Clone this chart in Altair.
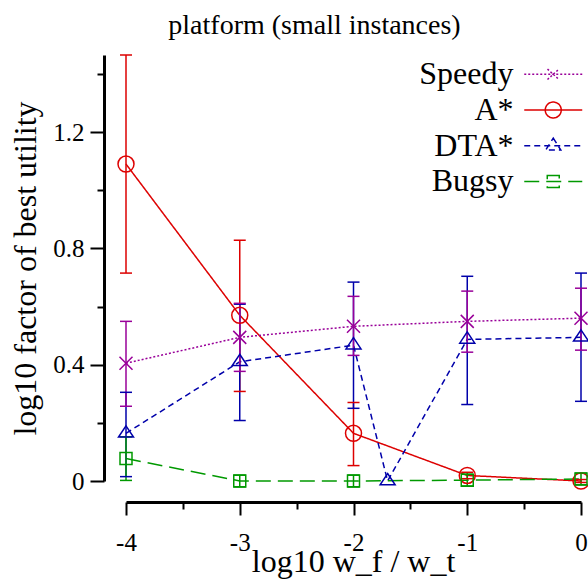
import altair as alt
import pandas as pd

FONT = "Liberation Serif"

series_names = ["Speedy", "A*", "DTA*", "Bugsy"]
series_colors = ["#990099", "#dd0000", "#0000aa", "#009900"]
series_dashes = [[2, 2], [1, 0], [6, 4], [15, 7]]

# log10 w_f / w_t, mean log10 factor of best utility, and error-bar extents
speedy_x = [-4, -3, -2, -1, 0]
speedy_y = [0.405, 0.494, 0.532, 0.549, 0.560]
speedy_lo = [0.257, 0.377, 0.432, 0.443, 0.450]
speedy_hi = [0.549, 0.611, 0.635, 0.653, 0.663]

astar_x = [-4, -3, -2, -1, 0]
astar_y = [1.090, 0.570, 0.164, 0.019, 0.000]
astar_lo = [0.715, 0.308, 0.053, 0.008, -0.005]
astar_hi = [1.465, 0.828, 0.270, 0.030, 0.005]

dta_x = [-4, -3, -2, -1.7, -1, 0]
dta_y = [0.164, 0.410, 0.467, 0.000, 0.487, 0.494]
dta_lo = [0.015, 0.208, 0.250, None, 0.263, 0.274]
dta_hi = [0.305, 0.608, 0.684, None, 0.704, 0.715]

bugsy_x = [-4, -3, -2, -1, 0]
bugsy_y = [0.077, 0.000, 0.000, 0.003, 0.007]
bugsy_lo = [0.002, -0.020, -0.020, -0.017, -0.013]
bugsy_hi = [0.152, 0.020, 0.020, 0.023, 0.027]

x_ticks = [-4, -3.5, -3, -2.5, -2, -1.5, -1, -0.5, 0]
y_ticks = [0, 0.2, 0.4, 0.6, 0.8, 1.0, 1.2, 1.4]

rows = []
for name, xs, ys, los, his in [
    ("A*", astar_x, astar_y, astar_lo, astar_hi),
    ("DTA*", dta_x, dta_y, dta_lo, dta_hi),
    ("Speedy", speedy_x, speedy_y, speedy_lo, speedy_hi),
    ("Bugsy", bugsy_x, bugsy_y, bugsy_lo, bugsy_hi),
]:
    for x, y, lo, hi in zip(xs, ys, los, his):
        rows.append({"series": name, "x": x, "y": y, "lo": lo, "hi": hi})
df = pd.DataFrame(rows)
err_df = df.dropna(subset=["lo", "hi"])

# marker outlines used in the plot (custom paths live in the [-1, 1] unit square)
marker_shapes = {
    "Speedy": ("M-1,-1L1,1M-1,1L1,-1", 169),
    "A*": ("circle", 256),
    "DTA*": ("M0,-1L1,0.5L-1,0.5Z", 225),
    "Bugsy": ("square", 144),
}

# legend samples: one unit = 18 px (symbol size 36 x 36), the sample line is 58 px long
KEY_UNIT = 18
KEY_HALF = 29 / KEY_UNIT


def key_sample(dash, marker):
    """Legend sample: broken horizontal line plus a small marker."""
    u = 1 / KEY_UNIT
    on, off = dash
    parts = []
    if off == 0:
        parts.append(f"M{-KEY_HALF:.3f},0H{KEY_HALF:.3f}")
    else:
        pos = -KEY_HALF
        while pos < KEY_HALF:
            end = min(pos + on * u, KEY_HALF)
            parts.append(f"M{pos:.3f},0H{end:.3f}")
            pos = end + off * u
    return "".join(parts) + marker


key_markers = [
    "M-0.32,-0.29L0.32,0.29M-0.32,0.29L0.32,-0.29",
    "M0.444,0A0.444,0.444,0,1,1,-0.444,0A0.444,0.444,0,1,1,0.444,0",
    "M0,-0.42L0.42,0.24L-0.42,0.24Z",
    "M-0.333,-0.333H0.333V0.333H-0.333Z",
]
key_paths = [key_sample(d, m) for d, m in zip(series_dashes, key_markers)]

x_scale = alt.Scale(domain=[-4, 0], nice=False, zero=False)
y_scale = alt.Scale(domain=[0, 1.465], nice=False, zero=False)
color_scale = alt.Scale(domain=series_names, range=series_colors)
dash_scale = alt.Scale(domain=series_names, range=series_dashes)

x_axis = alt.Axis(
    title="log10 w_f / w_t",
    values=x_ticks,
    labelExpr="datum.value % 1 === 0 ? '' + datum.value : ''",
    tickSize={"condition": {"test": "datum.value % 1 === 0", "value": 13}, "value": 7},
    offset=21,
    grid=False,
    labelFlush=False,
    labelOverlap=False,
    labelFont=FONT,
    labelFontSize=25,
    labelColor="black",
    labelBaseline="alphabetic",
    labelPadding=35,
    titleFont=FONT,
    titleFontSize=32,
    titleFontWeight="normal",
    titleColor="black",
    titleBaseline="alphabetic",
    titleX=227,
    titleY=69,
    domainColor="black",
    domainWidth=3,
    tickColor="black",
    tickWidth=2,
)

y_axis = alt.Axis(
    title="log10 factor of best utility",
    values=y_ticks,
    labelExpr="round(datum.value * 10) % 4 === 0 ? '' + datum.value : ''",
    tickSize={"condition": {"test": "round(datum.value * 10) % 4 === 0", "value": 14}, "value": 7},
    offset=22,
    grid=False,
    labelFlush=False,
    labelOverlap=False,
    labelFont=FONT,
    labelFontSize=25,
    labelColor="black",
    labelPadding=6,
    titleFont=FONT,
    titleFontSize=32,
    titleFontWeight="normal",
    titleColor="black",
    titleBaseline="alphabetic",
    titleAlign="center",
    titleAngle=270,
    titleX=-69,
    titleY=213,
    domainColor="black",
    domainWidth=3,
    tickColor="black",
    tickWidth=2,
)

X = alt.X("x:Q", scale=x_scale, axis=x_axis)
Y = alt.Y("y:Q", scale=y_scale, axis=y_axis)
C = alt.Color("series:N", scale=color_scale, legend=None)

base = alt.Chart(df)

key = alt.Legend(
    orient="none",
    legendX=408.25,
    legendY=0.3,
    title=None,
    labelFont=FONT,
    labelFontSize=32,
    labelColor="black",
    labelAlign="right",
    labelOffset={"expr": "-58.75"},
    symbolSize=(2 * KEY_UNIT) ** 2,
    symbolStrokeWidth=1.5,
    symbolOpacity=1,
    symbolFillColor="transparent",
    rowPadding=0.7,
    padding=0,
)

# the key layer draws nothing in the plot; it only carries the legend
# (line sample + marker); it comes first so its legend settings take precedence
key_layer = (
    base.transform_filter("false")
    .mark_point(filled=False, strokeWidth=1.5, opacity=1)
    .encode(
        x=X,
        y=Y,
        color=alt.Color("series:N", scale=color_scale, legend=key),
        shape=alt.Shape(
            "series:N", scale=alt.Scale(domain=series_names, range=key_paths), legend=key
        ),
    )
)

lines = base.mark_line(strokeWidth=1.5).encode(
    x=X,
    y=Y,
    color=C,
    strokeDash=alt.StrokeDash("series:N", scale=dash_scale, legend=None),
    order="x:Q",
)

err = alt.Chart(err_df)
bars = err.mark_rule(strokeWidth=1.5).encode(
    x=X, y=alt.Y("lo:Q", scale=y_scale, axis=y_axis), y2="hi:Q", color=C
)
# error-bar caps: short horizontal rules centred on each x
caps_lo = err.mark_rule(strokeWidth=1.5, xOffset=-6, x2Offset=6).encode(
    x=X, x2=alt.X2("x:Q"), y=alt.Y("lo:Q", scale=y_scale, axis=y_axis), color=C
)
caps_hi = err.mark_rule(strokeWidth=1.5, xOffset=-6, x2Offset=6).encode(
    x=X, x2=alt.X2("x:Q"), y=alt.Y("hi:Q", scale=y_scale, axis=y_axis), color=C
)

markers = []
for name in series_names:
    shape, size = marker_shapes[name]
    markers.append(
        base.transform_filter(alt.datum.series == name)
        .mark_point(shape=shape, size=size, filled=False, strokeWidth=1.5, opacity=1)
        .encode(x=X, y=Y, color=C)
    )

chart = (
    alt.layer(key_layer, lines, bars, caps_lo, caps_hi, *markers)
    .properties(
        width=455,
        height=426,
        autosize=alt.AutoSizeParams(type="none"),
        padding={"left": 126, "top": 55, "right": 7, "bottom": 98},
        title=alt.TitleParams(
            "platform (small instances)",
            font=FONT,
            fontSize=28,
            fontWeight="normal",
            color="black",
            anchor="middle",
            frame="group",
            baseline="alphabetic",
            offset=21,
            dx=-39,
            dy=29,
        ),
    )
    .configure(background="white")
    .configure_view(stroke=None)
)

chart.save("out.html", embed_options={"renderer": "svg", "actions": False})
